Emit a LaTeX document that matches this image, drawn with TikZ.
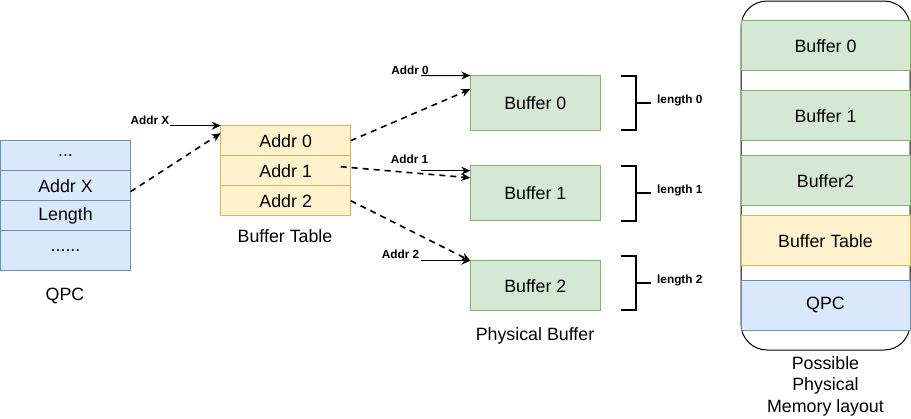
\documentclass[tikz,border=0pt]{standalone}
\usepackage{fontspec}
\setmainfont{Liberation Sans}
\usetikzlibrary{arrows.meta,calc}

\definecolor{qpcfill}{HTML}{DAE8FC}
\definecolor{qpcdraw}{HTML}{6C8EBF}
\definecolor{tabfill}{HTML}{FFF2CC}
\definecolor{tabdraw}{HTML}{D6B656}
\definecolor{buffill}{HTML}{D5E8D4}
\definecolor{bufdraw}{HTML}{82B366}

\tikzset{
	cell/.style={draw,rectangle,outer sep=0pt,inner sep=0pt,line width=1pt,minimum width=130pt,minimum height=30pt,font=\fontsize{17.8}{20}\selectfont},
	qpccell/.style={cell,fill=qpcfill,draw=qpcdraw},
	tabcell/.style={cell,fill=tabfill,draw=tabdraw},
	bufcell/.style={cell,fill=buffill,draw=bufdraw},
	memrow/.style={minimum width=169pt,minimum height=50pt},
	caption/.style={font=\fontsize{17.8}{21.5}\selectfont,align=center},
	addrlbl/.style={font=\bfseries\fontsize{11.8}{13}\selectfont,inner sep=1pt},
	ptr/.style={-{Stealth[length=9pt,width=8pt]},line width=1pt},
	dptr/.style={ptr,line width=1.6pt,dash pattern=on 6pt off 5pt},
	brk/.style={line width=2pt}
}

\begin{document}
\begin{tikzpicture}[x=1pt,y=-1pt]
	\useasboundingbox (0,0) rectangle (911,418);

	\node[qpccell] (q0) at (65.5,155.7) {...};
	\node[qpccell] (qx) at (q0.south) [below] {Addr X};
	\node[qpccell] (ql) at (qx.south) [below] {Length};
	\node[qpccell,minimum height=40pt] (qe) at (ql.south) [below] {......};
	\node[caption] (qpclbl) at (65,296) {QPC};

	\node[tabcell] (bt0) at (285.7,140.7) {Addr 0};
	\node[tabcell] (bt1) at (bt0.south) [below] {Addr 1};
	\node[tabcell] (bt2) at (bt1.south) [below] {Addr 2};
	\node[caption] (btlbl) at (285,236) {Buffer Table};

	\node[bufcell,minimum height=55pt] (buf0) at (535.3,103) {Buffer 0};
	\node[bufcell,minimum height=55pt] (buf1) at (535.3,193.2) {Buffer 1};
	\node[bufcell,minimum height=50pt] (buf2) at (535.3,285.7) {Buffer 2};
	\node[caption] (buflbl) at (535,336) {Physical Buffer};

	\node[draw,line width=1pt,rounded corners=26pt,minimum width=169pt,minimum height=349pt] (mem) at (825.5,175.5) {};
	\node[bufcell,memrow] (m0) at (825.5,45.7) {Buffer 0};
	\node[bufcell,memrow] (m1) at (825.5,115.7) {Buffer 1};
	\node[bufcell,memrow] (m2) at (825.5,180.7) {Buffer2};
	\node[tabcell,memrow] (m3) at (825.5,240.7) {Buffer Table};
	\node[qpccell,memrow] (m4) at (825.5,305) {QPC};
	\node[caption,anchor=north] (memlbl) at (825.5,353) {Possible\\Physical\\Memory layout};

	\coordinate (axs) at (170,125.7);
	\coordinate (a0s) at (421,75.7);
	\coordinate (a1s) at (421,170.7);
	\coordinate (a2s) at (421,260.7);

	\draw[ptr] (axs) -- (bt0.north west);
	\draw[ptr] (a0s) -- (buf0.north west);
	\draw[ptr] (a1s) -- ($(buf1.north west)+(0,5)$);
	\draw[ptr] (a2s) -- (buf2.north west);

	\node[addrlbl] (axl) at (150,120) {Addr X};
	\node[addrlbl] (a0l) at (410,70) {Addr 0};
	\node[addrlbl] (a1l) at (409.5,159) {Addr 1};
	\node[addrlbl] (a2l) at (400.5,254) {Addr 2};

	\draw[dptr] ($(qx.north east)!0.7!(qx.south east)$) -- ($(bt0.north west)!0.25!(bt0.south west)$);
	\draw[dptr] (bt0.east) -- ($(buf0.north west)!0.25!(buf0.south west)$);
	\draw[dptr] ($(bt1.east)+(-10,-4)$) -- ($(buf1.north west)!0.22!(buf1.south west)$);
	\draw[dptr] (bt2.east) -- (buf2.north west);

	\foreach \top/\bot/\i in {75.7/130.3/0,165.7/220.7/1,255.7/310.3/2} {
		\draw[brk] (620.7,\top) -- (635.7,\top) -- (635.7,\bot) -- (620.7,\bot);
		\draw[brk] (635.7,{(\top+\bot)/2}) -- (650.7,{(\top+\bot)/2});
		\node[addrlbl,anchor=west] (len\i) at (656,{(\top+\bot)/2-2.5}) {length \i};
	}

\end{tikzpicture}
\end{document}
